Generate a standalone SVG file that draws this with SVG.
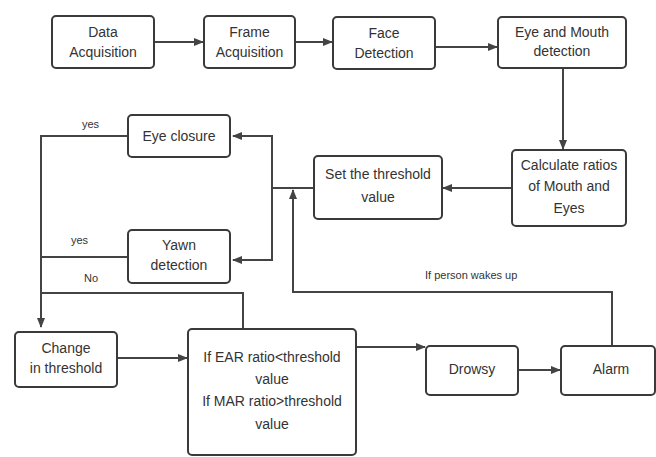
<svg xmlns="http://www.w3.org/2000/svg" width="656" height="457" viewBox="0 0 656 457">
<style>
.box{fill:#fff;stroke:#3a3a3a;stroke-width:2}
.t{font-family:"Liberation Sans",Arial,sans-serif;font-size:14px;fill:#333;text-anchor:middle}
.s{font-family:"Liberation Sans",Arial,sans-serif;font-size:11px;fill:#333}
.c{fill:none;stroke:#444;stroke-width:2}
</style>
<defs>
<marker id="ah" markerWidth="10" markerHeight="8" refX="9" refY="4" orient="auto" markerUnits="userSpaceOnUse">
<path d="M0,0 L10,4 L0,8 Z" fill="#444"/>
</marker>
</defs>
<rect width="656" height="457" fill="#fff"/>
<g id="connectors">
<line class="c" x1="154" y1="42" x2="203" y2="42" marker-end="url(#ah)"/>
<line class="c" x1="295" y1="42" x2="332" y2="42" marker-end="url(#ah)"/>
<line class="c" x1="435" y1="47" x2="497" y2="47" marker-end="url(#ah)"/>
<line class="c" x1="563" y1="68" x2="563" y2="149" marker-end="url(#ah)"/>
<line class="c" x1="512" y1="188" x2="443" y2="188" marker-end="url(#ah)"/>
<polyline class="c" points="314,188 272,188"/>
<polyline class="c" points="272,188 272,136 233,136" marker-end="url(#ah)"/>
<polyline class="c" points="272,188 272,260 233,260" marker-end="url(#ah)"/>
<polyline class="c" points="128,136 41,136 41,327" marker-end="url(#ah)"/>
<polyline class="c" points="128,257 41,257"/>
<polyline class="c" points="41,293 243,293 243,329"/>
<line class="c" x1="117" y1="358" x2="187" y2="358" marker-end="url(#ah)"/>
<line class="c" x1="356" y1="347" x2="425" y2="347" marker-end="url(#ah)"/>
<line class="c" x1="518" y1="370" x2="560" y2="370" marker-end="url(#ah)"/>
<polyline class="c" points="612,346 612,292 293,292 293,190" marker-end="url(#ah)"/>
<text class="s" x="82" y="128">yes</text>
<text class="s" x="71" y="244">yes</text>
<text class="s" x="84" y="282">No</text>
<text class="s" x="425" y="279">If person wakes up</text>
</g>
<g id="data-acquisition"><rect class="box" x="52" y="16" width="102" height="52" rx="4"/><text class="t" x="103" y="37">Data</text><text class="t" x="103" y="57">Acquisition</text></g>
<g id="frame-acquisition"><rect class="box" x="204" y="16" width="91" height="52" rx="4"/><text class="t" x="249.5" y="37">Frame</text><text class="t" x="249.5" y="57">Acquisition</text></g>
<g id="face-detection"><rect class="box" x="333" y="17" width="102" height="52" rx="4"/><text class="t" x="384" y="38">Face</text><text class="t" x="384" y="58">Detection</text></g>
<g id="eye-mouth-detection"><rect class="box" x="498" y="17" width="128" height="51" rx="4"/><text class="t" x="562" y="37">Eye and  Mouth</text><text class="t" x="562" y="56">detection</text></g>
<g id="calculate-ratios"><rect class="box" x="512" y="150" width="114" height="76" rx="4"/><text class="t" x="569" y="170">Calculate ratios</text><text class="t" x="569" y="191">of  Mouth and</text><text class="t" x="569" y="213">Eyes</text></g>
<g id="set-threshold"><rect class="box" x="314" y="156" width="128" height="63" rx="4"/><text class="t" x="378" y="179">Set the threshold</text><text class="t" x="378" y="202">value</text></g>
<g id="eye-closure"><rect class="box" x="128" y="115" width="102" height="42" rx="4"/><text class="t" x="179" y="141">Eye closure</text></g>
<g id="yawn-detection"><rect class="box" x="128" y="230" width="102" height="53" rx="4"/><text class="t" x="179" y="250">Yawn</text><text class="t" x="179" y="270">detection</text></g>
<g id="change-threshold"><rect class="box" x="15" y="332" width="102" height="55" rx="4"/><text class="t" x="66" y="353">Change</text><text class="t" x="66" y="373">in threshold</text></g>
<g id="condition"><rect class="box" x="188" y="329" width="168" height="126" rx="4"/><text class="t" x="272" y="362">If EAR ratio&lt;threshold</text><text class="t" x="272" y="384">value</text><text class="t" x="272" y="406">If MAR ratio&gt;threshold</text><text class="t" x="272" y="429">value</text></g>
<g id="drowsy"><rect class="box" x="426" y="346" width="92" height="49" rx="4"/><text class="t" x="472" y="374">Drowsy</text></g>
<g id="alarm"><rect class="box" x="561" y="346" width="94" height="49" rx="4"/><text class="t" x="611" y="374">Alarm</text></g>
</svg>
